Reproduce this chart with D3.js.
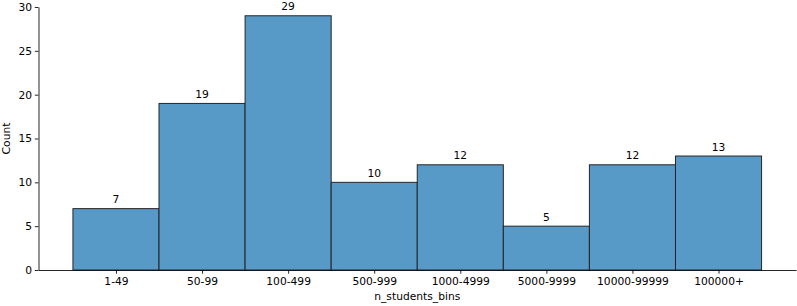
<!DOCTYPE html>
<html>
<head>
<meta charset="utf-8">
<script src="https://cdn.jsdelivr.net/npm/d3@7"></script>
<style>
  body { margin: 0; background: #fff; }
  svg { display: block; font-family: "DejaVu Sans", sans-serif; }
</style>
</head>
<body>
<script>
// data
var bins = ["1-49", "50-99", "100-499", "500-999", "1000-4999", "5000-9999", "10000-99999", "100000+"];
var counts = [7, 19, 29, 10, 12, 5, 12, 13];
var yTicks = [0, 5, 10, 15, 20, 25, 30];

var W = 797, H = 306;
var fs = "10.7px";
var margin = {top: 7, right: 1, bottom: 36, left: 38.5};
var width = W - margin.left - margin.right,
    height = H - margin.top - margin.bottom;

var svg = d3.select("body").append("svg")
    .attr("width", W)
    .attr("height", H);

var g = svg.append("g")
    .attr("transform", "translate(" + margin.left + "," + margin.top + ")");

// category index scale, matplotlib-like margins
var xi = d3.scaleLinear()
    .domain([-0.9, bins.length - 1 + 0.9])
    .range([0, width]);

var y = d3.scaleLinear()
    .domain([0, 30])
    .range([height, 0]);

g.selectAll(".bar")
    .data(counts)
  .enter().append("rect")
    .attr("class", "bar")
    .attr("x", function(d, i) { return xi(i - 0.5); })
    .attr("width", xi(0.5) - xi(-0.5))
    .attr("y", function(d) { return y(d); })
    .attr("height", function(d) { return y(0) - y(d); })
    .attr("fill", "#5799c7")
    .attr("stroke", "#262626")
    .attr("stroke-width", 1);

g.selectAll(".lbl")
    .data(counts)
  .enter().append("text")
    .attr("class", "lbl")
    .attr("x", function(d, i) { return xi(i); })
    .attr("y", function(d) { return y(d) - 5.5; })
    .attr("text-anchor", "middle")
    .style("font-size", fs)
    .text(function(d) { return d; });

var xAxis = d3.axisBottom(xi)
    .tickValues(d3.range(bins.length))
    .tickFormat(function(i) { return bins[i]; })
    .tickSize(3.7)
    .tickSizeOuter(0);

var yAxis = d3.axisLeft(y)
    .tickValues(yTicks)
    .tickSize(3.7)
    .tickSizeOuter(0);

var gx = g.append("g")
    .attr("transform", "translate(0," + height + ")")
    .call(xAxis);

var gy = g.append("g")
    .call(yAxis);

[gx, gy].forEach(function(a) {
  a.selectAll("path, line").attr("stroke", "#000").attr("stroke-width", 0.85);
  a.selectAll("text").style("font-size", fs).style("font-family", "DejaVu Sans").attr("fill", "#000");
});
gx.selectAll(".tick text").attr("dy", "0.71em").attr("y", 7);
gy.selectAll(".tick text").attr("x", -6.5);

g.append("text")
    .attr("x", width / 2)
    .attr("y", height + 30)
    .attr("text-anchor", "middle")
    .style("font-size", fs)
    .text("n_students_bins");

g.append("text")
    .attr("transform", "translate(" + (-28.5) + "," + (height / 2) + ") rotate(-90)")
    .attr("text-anchor", "middle")
    .style("font-size", fs)
    .text("Count");
</script>
</body>
</html>
